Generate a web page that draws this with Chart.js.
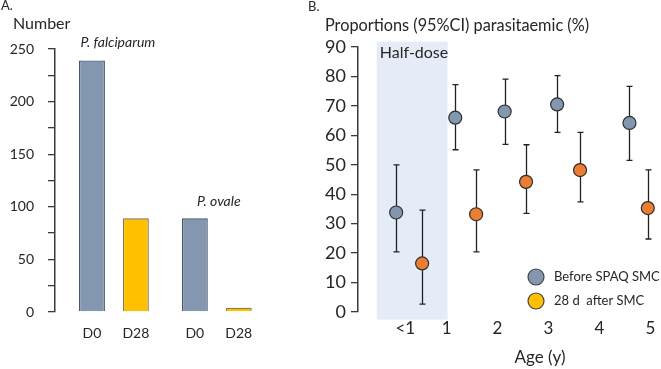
<!DOCTYPE html>
<html>
<head>
<meta charset="utf-8">
<script src="https://cdn.jsdelivr.net/npm/chart.js@4.4.1/dist/chart.umd.min.js"></script>
<style>
  html, body { margin: 0; padding: 0; background: #ffffff; }
  #wrap { position: relative; width: 661px; height: 369px; overflow: hidden; }
  #ca { position: absolute; left: 0; top: 0; }
  #cb { position: absolute; left: 300px; top: 0; }
</style>
</head>
<body>
<div id="wrap">
  <canvas id="ca" width="300" height="369"></canvas>
  <canvas id="cb" width="361" height="369"></canvas>
</div>
<script>
// ---------- Panel A data ----------
const species = ['P. falciparum', 'P. ovale'];
const dayLabels = ['D0', 'D28'];
const countsD0 = [239, 89];
const countsD28 = [89, 4];
const countTicks = [0, 50, 100, 150, 200, 250];

// ---------- Panel B data ----------
const ageTickValues = [0.19, 1, 2, 3, 4, 5];
const ageTickLabels = ['<1', '1', '2', '3', '4', '5'];
const beforeAge = [0.01, 1.17, 2.14, 3.17, 4.59];
const beforePct = [33.8, 66.0, 68.1, 70.5, 64.2];
const beforeLow = [20.4, 55.1, 56.9, 61.0, 51.5];
const beforeHigh = [50.0, 77.2, 79.1, 80.3, 76.6];
const afterAge = [0.52, 1.58, 2.56, 3.62, 4.95];
const afterPct = [16.5, 33.2, 44.2, 48.2, 35.3];
const afterLow = [2.7, 20.4, 33.5, 37.4, 24.8];
const afterHigh = [34.6, 48.3, 56.8, 61.0, 48.3];
const halfDoseAge = [-0.37, 1.02];
const halfDosePct = [-2.6, 91.8];
const seriesNames = ['Before SPAQ SMC', '28 d  after SMC'];

const FONT = 'Lato, "Open Sans", sans-serif';
const AXIS = '#3a3a3a';
const TXT = '#262626';
const BLUE = '#8497B0';
const YELLOW = '#FFC000';
const ORANGE = '#ED7D31';

// ---------- Panel A ----------
const annotA = {
  id: 'annotA',
  afterDraw(chart) {
    const ctx = chart.ctx;
    const ys = chart.scales.y;
    ctx.save();
    ctx.fillStyle = TXT;
    ctx.textBaseline = 'middle';
    ctx.textAlign = 'left';
    ctx.font = '13px ' + FONT;
    ctx.fillText('A.', 1, 6);
    ctx.font = '16px ' + FONT;
    ctx.fillText('Number', 13, 24);
    // bar labels under each bar
    ctx.font = '14px ' + FONT;
    ctx.textAlign = 'center';
    chart.data.datasets.forEach((ds, di) => {
      const meta = chart.getDatasetMeta(di);
      meta.data.forEach((bar) => {
        ctx.fillText(ds.label, bar.x, 333);
      });
    });
    // species labels
    ctx.font = 'italic 14px ' + FONT;
    const m0 = chart.getDatasetMeta(0).data;
    const m1 = chart.getDatasetMeta(1).data;
    ctx.fillText(species[0], (m0[0].x + m1[0].x) / 2 + 4, ys.getPixelForValue(countsD0[0]) - 18);
    ctx.fillText(species[1], (m0[1].x + m1[1].x) / 2 + 2, ys.getPixelForValue(countsD0[1]) - 17);
    ctx.restore();
  }
};

new Chart(document.getElementById('ca'), {
  type: 'bar',
  data: {
    datasets: [
      { label: dayLabels[0], data: countsD0.map((v, i) => ({ x: i, y: v })),
        backgroundColor: BLUE, borderColor: '#44546A', borderWidth: 1.3 },
      { label: dayLabels[1], data: countsD28.map((v, i) => ({ x: i, y: v })),
        backgroundColor: YELLOW, borderColor: '#8a7a4a', borderWidth: 1.3 }
    ]
  },
  options: {
    responsive: false,
    animation: false,
    categoryPercentage: 0.854,
    barPercentage: 0.59,
    layout: { padding: { left: 0, top: 49, right: 40, bottom: 57 } },
    plugins: { legend: { display: false }, tooltip: { enabled: false } },
    scales: {
      x: {
        type: 'linear', display: false, offset: false, min: -0.573, max: 1.42,
        afterBuildTicks: (s) => { s.ticks = [{ value: 0 }, { value: 1 }]; }
      },
      y: {
        min: 0, max: 250,
        afterFit: (s) => { s.width = 55; },
        afterBuildTicks: (s) => {
          const t = [];
          for (let v = 0; v <= 250; v += 25) t.push({ value: v });
          s.ticks = t;
        },
        ticks: {
          padding: 14, color: TXT, font: { family: FONT, size: 14 },
          callback: (v) => countTicks.includes(v) ? String(v) : ''
        },
        grid: { drawOnChartArea: false, tickLength: 7, color: AXIS, lineWidth: 1.3 },
        border: { color: AXIS, width: 1.5 }
      }
    }
  },
  plugins: [annotA]
});

// ---------- Panel B ----------
const panelB = {
  id: 'panelB',
  beforeDatasetsDraw(chart) {
    const ctx = chart.ctx;
    const xs = chart.scales.x;
    const ys = chart.scales.y;
    ctx.save();
    // half-dose shading
    const x0 = xs.getPixelForValue(halfDoseAge[0]);
    const x1 = xs.getPixelForValue(halfDoseAge[1]);
    const y0 = ys.getPixelForValue(halfDosePct[1]);
    const y1 = ys.getPixelForValue(halfDosePct[0]);
    ctx.fillStyle = '#E6ECF7';
    ctx.fillRect(x0, y0, x1 - x0, y1 - y0);
    ctx.fillStyle = TXT;
    ctx.font = '16px ' + FONT;
    ctx.textBaseline = 'middle';
    ctx.textAlign = 'left';
    ctx.fillText('Half-dose', x0 + 3, 53);
    // error bars
    ctx.strokeStyle = '#222';
    ctx.lineWidth = 1.3;
    const bars = [[beforeAge, beforeLow, beforeHigh], [afterAge, afterLow, afterHigh]];
    bars.forEach(([ax, lo, hi]) => {
      ax.forEach((a, i) => {
        const px = Math.round(xs.getPixelForValue(a)) + 0.5;
        const pl = ys.getPixelForValue(lo[i]);
        const ph = ys.getPixelForValue(hi[i]);
        ctx.beginPath();
        ctx.moveTo(px, pl); ctx.lineTo(px, ph);
        ctx.moveTo(px - 3, pl); ctx.lineTo(px + 3, pl);
        ctx.moveTo(px - 3, ph); ctx.lineTo(px + 3, ph);
        ctx.stroke();
      });
    });
    ctx.restore();
  },
  afterDraw(chart) {
    const ctx = chart.ctx;
    ctx.save();
    ctx.fillStyle = TXT;
    ctx.textBaseline = 'middle';
    ctx.textAlign = 'left';
    ctx.font = '13px ' + FONT;
    ctx.fillText('B.', 8, 7);
    ctx.font = '16.3px ' + FONT;
    ctx.fillText('Proportions (95%CI) parasitaemic (%)', 25, 26);
    ctx.textAlign = 'center';
    ctx.font = '17px ' + FONT;
    ctx.fillText('Age (y)', 240, 358);
    // legend
    const cols = [BLUE, YELLOW];
    ctx.textAlign = 'left';
    ctx.font = '13px ' + FONT;
    seriesNames.forEach((n, i) => {
      const cy = 277 + i * 24;
      ctx.beginPath();
      ctx.arc(236, cy, 8, 0, Math.PI * 2);
      ctx.fillStyle = cols[i];
      ctx.fill();
      ctx.lineWidth = 1.2;
      ctx.strokeStyle = '#444';
      ctx.stroke();
      ctx.fillStyle = TXT;
      ctx.fillText(n, 254, cy);
    });
    ctx.restore();
  }
};

new Chart(document.getElementById('cb'), {
  type: 'scatter',
  data: {
    datasets: [
      { label: seriesNames[0], data: beforeAge.map((a, i) => ({ x: a, y: beforePct[i] })),
        backgroundColor: BLUE, borderColor: '#2e2e2e', borderWidth: 1.2, pointRadius: 6.5 },
      { label: seriesNames[1], data: afterAge.map((a, i) => ({ x: a, y: afterPct[i] })),
        backgroundColor: ORANGE, borderColor: '#2e2e2e', borderWidth: 1.2, pointRadius: 6.5 }
    ]
  },
  options: {
    responsive: false,
    animation: false,
    clip: false,
    layout: { padding: { left: 0, top: 47, right: 3, bottom: 0 } },
    plugins: { legend: { display: false }, tooltip: { enabled: false } },
    scales: {
      x: {
        type: 'linear', min: -0.739, max: 5.058,
        afterFit: (s) => { s.height = 57; },
        afterBuildTicks: (s) => { s.ticks = ageTickValues.map((v) => ({ value: v })); },
        ticks: {
          padding: -2, color: TXT, font: { family: FONT, size: 17 }, maxRotation: 0, autoSkip: false,
          callback: (v) => { const k = ageTickValues.indexOf(v); return k >= 0 ? ageTickLabels[k] : ''; }
        },
        grid: { display: false },
        border: { display: false }
      },
      y: {
        min: 0, max: 90,
        afterFit: (s) => { s.width = 58; },
        ticks: { stepSize: 10, padding: 5, color: TXT, font: { family: FONT, size: 18 } },
        grid: { drawOnChartArea: false, tickLength: 7, color: AXIS, lineWidth: 1.3 },
        border: { color: AXIS, width: 1.5 }
      }
    }
  },
  plugins: [panelB]
});
</script>
</body>
</html>
